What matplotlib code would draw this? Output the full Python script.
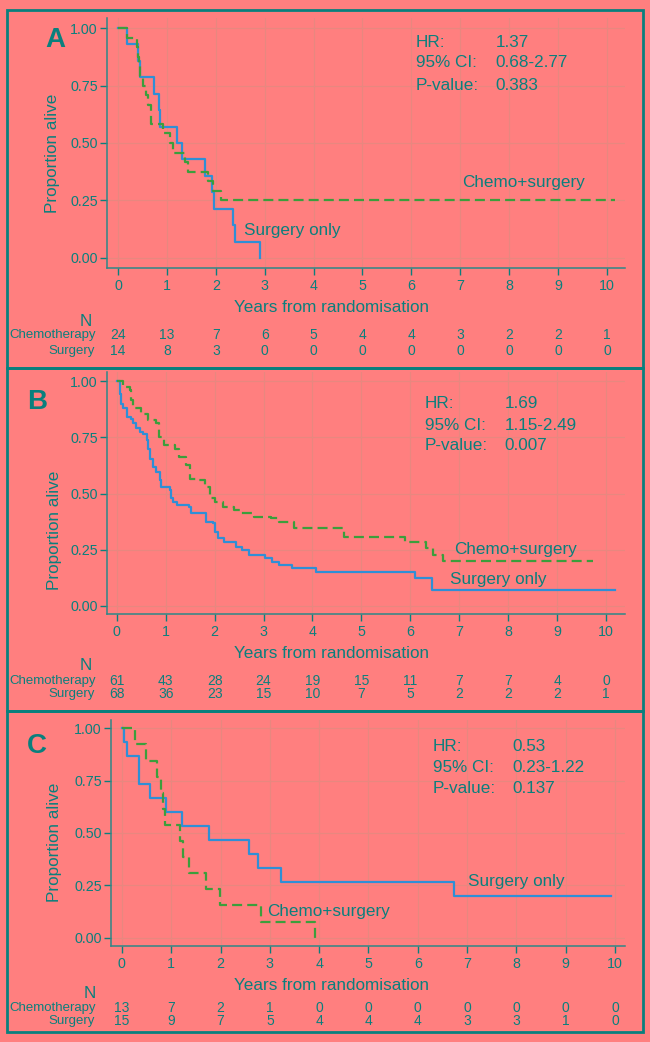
import numpy as np
import matplotlib
matplotlib.use('Agg')
import matplotlib.pyplot as plt
from matplotlib.patches import Rectangle
from matplotlib.transforms import blended_transform_factory

plt.rcParams['font.family'] = ['Liberation Sans', 'DejaVu Sans']

# Kaplan-Meier step curves (years, proportion alive)
a_surg_t = [0, 0.18, 0.40, 0.44, 0.74, 0.83, 0.86, 1.20, 1.30, 1.77, 1.92, 1.97, 2.36, 2.40, 2.90]
a_surg_s = [1.0, 0.929, 0.857, 0.786, 0.714, 0.643, 0.571, 0.500, 0.429, 0.357, 0.286, 0.214, 0.143, 0.071, 0.0]
a_chemo_t = [0, 0.18, 0.38, 0.40, 0.42, 0.45, 0.52, 0.57, 0.62, 0.67, 0.92, 1.06, 1.13, 1.38, 1.44, 1.84, 1.95, 2.10, 10.16]
a_chemo_s = [1.0, 0.958, 0.917, 0.875, 0.833, 0.792, 0.75, 0.708, 0.667, 0.583, 0.542, 0.50, 0.458, 0.417, 0.375, 0.333, 0.292, 0.25, 0.25]

b_surg_t = [0, 0.06, 0.09, 0.13, 0.20, 0.30, 0.33, 0.40, 0.47, 0.54, 0.61, 0.64, 0.67, 0.74, 0.81, 0.88,
            0.91, 1.08, 1.11, 1.14, 1.24, 1.48, 1.51, 1.82, 1.96, 2.01, 2.06, 2.20, 2.43, 2.56, 2.70, 3.04,
            3.17, 3.31, 3.59, 4.08, 6.09, 6.44, 10.18]
b_surg_s = [1.0, 0.945, 0.90, 0.879, 0.841, 0.834, 0.812, 0.79, 0.775, 0.767, 0.738, 0.70, 0.656, 0.619, 0.597, 0.56,
            0.53, 0.516, 0.479, 0.464, 0.449, 0.441, 0.412, 0.375, 0.367, 0.33, 0.301, 0.286, 0.264, 0.249, 0.227, 0.212,
            0.197, 0.182, 0.167, 0.152, 0.123, 0.071, 0.071]
b_chemo_t = [0, 0.13, 0.26, 0.30, 0.33, 0.50, 0.64, 0.80, 0.87, 0.97, 1.18, 1.28, 1.42, 1.50, 1.67, 1.80, 1.90,
             2.00, 2.17, 2.40, 2.54, 2.81, 3.15, 3.32, 3.62, 4.65, 5.90, 6.33, 6.47, 6.67, 9.74]
b_chemo_s = [1.0, 0.975, 0.96, 0.916, 0.879, 0.856, 0.827, 0.812, 0.752, 0.716, 0.70, 0.664, 0.627, 0.567, 0.56, 0.53, 0.479,
             0.464, 0.441, 0.427, 0.412, 0.397, 0.39, 0.375, 0.345, 0.308, 0.283, 0.256, 0.227, 0.20, 0.20]

c_surg_t = [0, 0.05, 0.11, 0.35, 0.58, 0.89, 1.22, 1.77, 2.57, 2.77, 3.22, 6.73, 9.91]
c_surg_s = [1.0, 0.933, 0.867, 0.733, 0.667, 0.60, 0.533, 0.467, 0.40, 0.333, 0.267, 0.20, 0.20]
c_chemo_t = [0, 0.27, 0.49, 0.72, 0.80, 0.84, 0.88, 1.18, 1.24, 1.37, 1.70, 1.99, 2.83, 3.91]
c_chemo_s = [1.0, 0.923, 0.846, 0.769, 0.692, 0.615, 0.538, 0.462, 0.385, 0.308, 0.231, 0.154, 0.077, 0.0]

# numbers at risk at years 0..10
years = list(range(11))
a_risk_chemo = [24, 13, 7, 6, 5, 4, 4, 3, 2, 2, 1]
a_risk_surg = [14, 8, 3, 0, 0, 0, 0, 0, 0, 0, 0]
b_risk_chemo = [61, 43, 28, 24, 19, 15, 11, 7, 7, 4, 0]
b_risk_surg = [68, 36, 23, 15, 10, 7, 5, 2, 2, 2, 1]
c_risk_chemo = [13, 7, 2, 1, 0, 0, 0, 0, 0, 0, 0]
c_risk_surg = [15, 9, 7, 5, 4, 4, 4, 3, 3, 1, 0]

panel_names = ['A', 'B', 'C']
hr_vals = ['1.37', '1.69', '0.53']
ci_vals = ['0.68-2.77', '1.15-2.49', '0.23-1.22']
p_vals = ['0.383', '0.007', '0.137']

# colours
bg = '#FF7F7F'
teal = '#0A7F7D'
spine_c = '#2E8787'
grid_c = '#E8877F'
blue = '#2F8FD6'
green = '#3C9E3C'

W, H = 650, 1042
fig = plt.figure(figsize=(6.5, 10.42), dpi=100, facecolor=bg)


def fx(px):
    return px / W


def fy(py):
    return 1 - py / H


# per panel layout in pixels: axes box, limits, text spots
panels = [
    dict(box=(107, 18, 625, 268), xlim=(-0.225, 10.37), ylim=(-0.0435, 1.0435),
         surg=(a_surg_t, a_surg_s), chemo=(a_chemo_t, a_chemo_s),
         risk=(a_risk_chemo, a_risk_surg), letter=(55, 40), ylab=(53, 153),
         stat=(6.09, 7.72, [0.935, 0.848, 0.752]),
         lab_chemo=(7.03, 0.33), lab_surg=(2.58, 0.12),
         xlab=308, n=(86, 321), rows=(335, 351), frame=(7, 10, 643, 368)),
    dict(box=(107, 372, 625, 614), xlim=(-0.2, 10.39), ylim=(-0.036, 1.041),
         surg=(b_surg_t, b_surg_s), chemo=(b_chemo_t, b_chemo_s),
         risk=(b_risk_chemo, b_risk_surg), letter=(37, 402), ylab=(54, 530),
         stat=(6.30, 7.93, [0.902, 0.804, 0.716]),
         lab_chemo=(6.89, 0.253), lab_surg=(6.81, 0.116),
         xlab=653, n=(86, 665), rows=(681, 694), frame=(7, 368, 643, 711)),
    dict(box=(111, 720, 625, 946), xlim=(-0.22, 10.2), ylim=(-0.04, 1.04),
         surg=(c_surg_t, c_surg_s), chemo=(c_chemo_t, c_chemo_s),
         risk=(c_risk_chemo, c_risk_surg), letter=(37, 746), ylab=(54, 842),
         stat=(6.31, 7.92, [0.912, 0.815, 0.715]),
         lab_chemo=(2.94, 0.123), lab_surg=(7.02, 0.266),
         xlab=985, n=(90, 993), rows=(1008, 1021), frame=(7, 711, 643, 1032)),
]

for i, p in enumerate(panels):
    x0, y0, x1, y1 = p['box']
    ax = fig.add_axes([fx(x0), fy(y1), (x1 - x0) / W, (y1 - y0) / H])
    ax.set_facecolor(bg)
    ax.set_xlim(*p['xlim'])
    ax.set_ylim(*p['ylim'])

    st, ss = p['surg']
    ct, cs = p['chemo']
    ax.step(st, ss, where='post', color=blue, lw=1.6)
    ax.step(ct, cs, where='post', color=green, lw=1.6, dashes=(4.5, 2.3))

    ax.set_xticks(years)
    ax.set_yticks([0, 0.25, 0.5, 0.75, 1.0])
    ax.set_yticklabels(['0.00', '0.25', '0.50', '0.75', '1.00'])
    ax.grid(True, color=grid_c, lw=0.9)
    ax.set_axisbelow(True)
    for s in ['top', 'right']:
        ax.spines[s].set_visible(False)
    for s in ['left', 'bottom']:
        ax.spines[s].set_color(spine_c)
        ax.spines[s].set_linewidth(1.1)
    ax.tick_params(colors=teal, labelsize=10.3, length=5, width=1)
    ax.tick_params(axis='x', pad=3)
    ax.tick_params(axis='y', pad=1.5)
    for t in ax.get_xticklines() + ax.get_yticklines():
        t.set_color(spine_c)

    fig.text(fx(p['ylab'][0]), fy(p['ylab'][1]), 'Proportion alive', color=teal,
             fontsize=12.3, rotation=90, ha='center', va='center')

    # statistics block
    sx, vx, sy = p['stat']
    for lab, val, yy in zip(['HR:', '95% CI:', 'P-value:'],
                            [hr_vals[i], ci_vals[i], p_vals[i]], sy):
        ax.text(sx, yy, lab, color=teal, fontsize=12.3, va='center', ha='left')
        ax.text(vx, yy, val, color=teal, fontsize=12.3, va='center', ha='left')

    ax.text(p['lab_chemo'][0], p['lab_chemo'][1], 'Chemo+surgery', color=teal,
            fontsize=12.3, va='center', ha='left')
    ax.text(p['lab_surg'][0], p['lab_surg'][1], 'Surgery only', color=teal,
            fontsize=12.3, va='center', ha='left')

    # panel letter
    fig.text(fx(p['letter'][0]), fy(p['letter'][1]), panel_names[i], color=teal,
             fontsize=20, fontweight='bold', ha='center', va='center')

    fig.text(fx(331), fy(p['xlab']), 'Years from randomisation', color=teal,
             fontsize=12.3, ha='center', va='center')

    # numbers at risk
    fig.text(fx(p['n'][0]), fy(p['n'][1]), 'N', color=teal, fontsize=12.3,
             ha='center', va='center')
    trans = blended_transform_factory(ax.transData, fig.transFigure)
    chemo_r, surg_r = p['risk']
    fig.text(fx(96), fy(p['rows'][0]), 'Chemotherapy', color=teal, fontsize=9.5,
             ha='right', va='center')
    fig.text(fx(95), fy(p['rows'][1]), 'Surgery', color=teal, fontsize=9.5,
             ha='right', va='center')
    for yr, nc, ns in zip(years, chemo_r, surg_r):
        ax.text(yr, fy(p['rows'][0]), str(nc), transform=trans, color=teal,
                fontsize=10, ha='center', va='center', clip_on=False)
        ax.text(yr, fy(p['rows'][1]), str(ns), transform=trans, color=teal,
                fontsize=10, ha='center', va='center', clip_on=False)

    # frame round the panel
    l, t, r, b = p['frame']
    fig.add_artist(Rectangle((fx(l), fy(b)), (r - l) / W, (b - t) / H,
                             transform=fig.transFigure, fill=False,
                             edgecolor=teal, lw=2.0))

fig.savefig('out.png', dpi=100, facecolor=bg)
